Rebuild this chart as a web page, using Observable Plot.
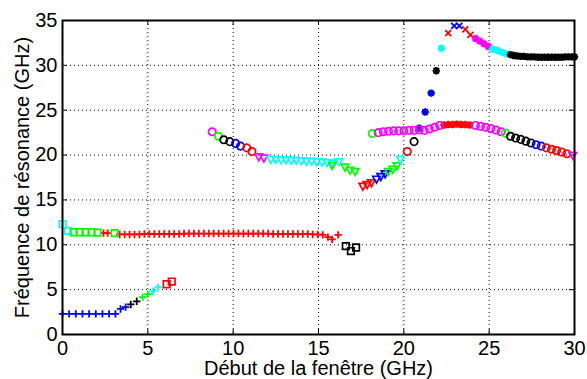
<!DOCTYPE html>
<html><head><meta charset="utf-8">
<script src="https://cdn.jsdelivr.net/npm/d3@7"></script>
<script src="https://cdn.jsdelivr.net/npm/@observablehq/plot@0.6"></script>
<style>body{margin:0;background:#fff}</style>
</head><body><div id="chart"></div>
<script>
// ---- tick labels & axis texts ----
const xTicks = [0, 5, 10, 15, 20, 25, 30];
const yTicks = [0, 5, 10, 15, 20, 25, 30, 35];
const xLabel = "Début de la fenêtre (GHz)";
const yLabel = "Fréquence de résonance (GHz)";

// ---- low branch ----
const lowBluePlus = [[0,2.3],[0.39,2.3],[0.78,2.3],[1.17,2.3],[1.56,2.3],[1.95,2.3],[2.34,2.3],[2.73,2.3],[3.1,2.3],[3.4,2.85],[3.7,3.05]];
const lowBlackPlus = [[4.0,3.35],[4.35,3.7]];
const lowGreenPlus = [[4.7,4.15],[5.0,4.5]];
const lowCyanPlus = [[5.3,4.8],[5.6,5.25]];
const lowRedSquare = [[6.1,5.6],[6.4,5.9]];

// ---- ~11 GHz branch ----
const midCyanSquare = [[0.0,12.3],[0.33,11.55]];
const midGreenSquare = [[0.65,11.4],[1.0,11.4],[1.35,11.4],[1.7,11.4],[2.05,11.35]];
const midRedPlus1 = [[2.4,11.3],[2.65,11.3]];
const midGreenSquare2 = [[3.05,11.3]];
const midRedPlus2 = [[3.35,11.15],[3.64,11.15],[3.93,11.15],[4.22,11.15],[4.51,11.15],[4.80,11.2],[5.09,11.2],[5.38,11.2],[5.67,11.2],[5.96,11.2],
  [6.25,11.2],[6.54,11.2],[6.83,11.2],[7.12,11.25],[7.41,11.25],[7.70,11.25],[7.99,11.25],[8.28,11.25],[8.57,11.25],[8.86,11.25],
  [9.15,11.25],[9.44,11.25],[9.73,11.25],[10.02,11.25],[10.31,11.25],[10.60,11.25],[10.89,11.25],[11.18,11.25],[11.47,11.25],[11.76,11.25],
  [12.05,11.25],[12.34,11.2],[12.63,11.2],[12.92,11.2],[13.21,11.2],[13.50,11.2],[13.79,11.2],[14.08,11.2],[14.37,11.2],[14.66,11.15],[14.95,11.15],
  [15.25,11.1],[15.55,10.85],[15.8,10.6],[16.15,11.1]];
const midBlackSquare = [[16.6,9.85],[16.9,9.3],[17.2,9.7]];

// ---- ~20 GHz descending branch ----
const cMagentaO = [[8.77,22.6]];
const cGreenO = [[9.14,22.1]];
const cBlackO = [[9.45,21.7],[9.8,21.5]];
const cBlueO = [[10.14,21.3],[10.43,21.0]];
const cRedO = [[10.8,20.8],[11.1,20.4]];
const cMagentaV = [[11.5,19.8],[11.8,19.65]];
const cCyanV = [[12.2,19.5],[12.5,19.5],[12.8,19.45],[13.1,19.45],[13.4,19.4],[13.7,19.4],[14.0,19.35],[14.3,19.3],[14.6,19.3],[14.9,19.25],[15.2,19.2],[15.5,19.15],[15.85,19.1],[16.2,19.25]];
const cGreenV = [[15.8,18.85],[16.55,18.65],[16.85,18.3],[17.15,18.15]];
const cRedV = [[17.6,16.5],[17.85,16.7],[18.1,16.9]];
const cBlueV = [[18.4,17.3],[18.65,17.6],[18.9,17.9]];
const cGreenV2 = [[19.1,18.15],[19.35,18.4],[19.6,18.8]];
const cCyanV2 = [[19.8,19.5]];
const cRedO2 = [[20.2,20.4]];
const cBlackO2 = [[20.6,21.5]];

// ---- rising peak branch ----
const pBlueStar = [[20.9,23.0],[21.25,24.8],[21.6,26.9]];
const pBlackStar = [[21.9,29.4]];
const pCyanStar = [[22.2,31.9]];
const pRedX = [[22.6,33.6]];
const pBlueX = [[22.95,34.4],[23.25,34.4]];
const pRedX2 = [[23.6,34.0],[23.9,33.4]];
const pMagentaStar = [[24.2,33.0],[24.45,32.7],[24.7,32.4],[24.95,32.1]];
const pCyanStar2 = [[25.2,31.8],[25.5,31.65],[25.75,31.45],[26.0,31.3]];
const pBlackStar2 = [[26.25,31.2],[26.45,31.1],[26.65,31.05],[26.85,31.0],[27.05,31.0],[27.25,30.95],[27.45,30.95],[27.65,30.95],[27.85,30.9],[28.05,30.9],
  [28.25,30.9],[28.45,30.9],[28.65,30.9],[28.85,30.9],[29.05,30.9],[29.25,30.9],[29.45,30.95],[29.65,30.95],[29.85,30.95],[30.0,30.95]];

// ---- ~23 GHz upper branch ----
const eGreenO = [[18.15,22.4]];
const eMagentaO = [[18.5,22.5],[18.8,22.6],[19.1,22.65],[19.4,22.7],[19.7,22.7],[20.0,22.7],[20.3,22.75],[20.6,22.75],[20.9,22.8],[21.2,22.75],[21.5,22.9],[21.8,23.1],[22.1,23.3]];
const eRedStar = [[22.35,23.35],[22.6,23.4],[22.85,23.4],[23.1,23.45],[23.35,23.4],[23.6,23.4],[23.85,23.35]];
const eMagentaO2 = [[24.2,23.3],[24.5,23.2],[24.8,23.1],[25.1,22.95],[25.4,22.8],[25.7,22.6]];
const eGreenO2 = [[25.95,22.45]];
const eBlackO = [[26.25,22.1],[26.55,21.9],[26.85,21.75],[27.15,21.55],[27.45,21.35]];
const eBlueO = [[27.75,21.15],[28.05,21.0]];
const eRedO = [[28.35,20.8],[28.65,20.65],[28.95,20.5],[29.25,20.35],[29.55,20.15]];
const eMagentaV = [[29.9,19.95]];

// MATLAB colour letters
const colors = {b:"#0000ff", g:"#00ff00", r:"#ff0000", c:"#00ffff", m:"#ff00ff", k:"#000000"};

const series = [
  [lowBluePlus,"b","plus"],[lowBlackPlus,"k","plus"],[lowGreenPlus,"g","plus"],[lowCyanPlus,"c","plus"],[lowRedSquare,"r","square"],
  [midCyanSquare,"c","square"],[midGreenSquare,"g","square"],[midRedPlus1,"r","plus"],[midGreenSquare2,"g","square"],[midRedPlus2,"r","plus"],[midBlackSquare,"k","square"],
  [cMagentaO,"m","circle"],[cGreenO,"g","circle"],[cBlackO,"k","circle"],[cBlueO,"b","circle"],[cRedO,"r","circle"],[cMagentaV,"m","tri"],[cCyanV,"c","tri"],
  [cGreenV,"g","tri"],[cRedV,"r","tri"],[cBlueV,"b","tri"],[cGreenV2,"g","tri"],[cCyanV2,"c","tri"],[cRedO2,"r","circle"],[cBlackO2,"k","circle"],
  [eGreenO,"g","circle"],[eMagentaO,"m","circle"],[eRedStar,"r","star"],[eMagentaO2,"m","circle"],[eGreenO2,"g","circle"],[eBlackO,"k","circle"],[eBlueO,"b","circle"],[eRedO,"r","circle"],[eMagentaV,"m","tri"],
  [pBlueStar,"b","star"],[pBlackStar,"k","star"],[pCyanStar,"c","star"],[pRedX,"r","times"],[pBlueX,"b","times"],[pRedX2,"r","times"],[pMagentaStar,"m","star"],[pCyanStar2,"c","star"],[pBlackStar2,"k","star"]
];

const rows = series.flatMap(([pts, c, m]) => pts.map(([x, y]) => ({x, y, c: colors[c], m})));

// MATLAB-like marker shapes (half size h derived from Plot's r)
const H = s => Math.sqrt(s / Math.PI);
const symbols = {
  plus: {draw(c, s){const h=H(s); c.moveTo(-h,0); c.lineTo(h,0); c.moveTo(0,-h); c.lineTo(0,h);}},
  times: {draw(c, s){const h=H(s); c.moveTo(-h,-h); c.lineTo(h,h); c.moveTo(-h,h); c.lineTo(h,-h);}},
  star: {draw(c, s){const h=H(s), d=h*0.72; c.moveTo(-h,0); c.lineTo(h,0); c.moveTo(0,-h); c.lineTo(0,h); c.moveTo(-d,-d); c.lineTo(d,d); c.moveTo(-d,d); c.lineTo(d,-d);}},
  circle: {draw(c, s){const h=H(s); c.moveTo(h,0); c.arc(0,0,h,0,2*Math.PI);}},
  square: {draw(c, s){const h=H(s); c.rect(-h,-h,2*h,2*h);}},
  tri: {draw(c, s){const h=H(s); c.moveTo(-h,-0.8*h); c.lineTo(h,-0.8*h); c.lineTo(0,h); c.closePath();}}
};
const radius = {plus:3.7, times:3.0, star:3.7, circle:3.7, square:3.3, tri:3.8};
const strokeW = {plus:1.8, times:1.8, star:2.2, circle:1.7, square:1.7, tri:1.7};

const width = 587, height = 379, mL = 62, mR = 13, mT = 20, mB = 45;
const innerW = width - mL - mR, innerH = height - mT - mB;
const tick = 5;

const dotMarks = Object.keys(symbols).map(k =>
  Plot.dot(rows.filter(d => d.m === k), {x: "x", y: "y", stroke: "c", fill: "none", symbol: symbols[k], r: radius[k], strokeWidth: strokeW[k]})
);

const chart = Plot.plot({
  width, height, marginLeft: mL, marginRight: mR, marginTop: mT, marginBottom: mB,
  style: {fontFamily: "'Liberation Sans', Arial, Helvetica, sans-serif", fontSize: "20px", background: "#fff", color: "#000"},
  x: {domain: [0, 30]},
  y: {domain: [0, 35]},
  color: {type: "identity"},
  marks: [
    Plot.ruleX(xTicks.filter(d => d > 0 && d < 30), {stroke: "#000", strokeDasharray: "1,3", strokeWidth: 1}),
    Plot.ruleY(yTicks.filter(d => d > 0 && d < 35), {stroke: "#000", strokeDasharray: "1,3", strokeWidth: 1}),
    Plot.ruleX(xTicks, {stroke: "#000", insetTop: innerH - tick}),
    Plot.ruleX(xTicks, {stroke: "#000", insetBottom: innerH - tick}),
    Plot.ruleY(yTicks, {stroke: "#000", insetRight: innerW - tick}),
    Plot.ruleY(yTicks, {stroke: "#000", insetLeft: innerW - tick}),
    ...dotMarks,
    Plot.frame({stroke: "#000", strokeWidth: 2}),
    Plot.axisX(xTicks, {tickSize: 0, tickPadding: 6, fontSize: 20, label: null}),
    Plot.axisY(yTicks, {tickSize: 0, tickPadding: 5, fontSize: 20, label: null}),
    Plot.text([xLabel], {text: d => d, frameAnchor: "bottom", textAnchor: "middle", dy: 40, fontSize: 20}),
    Plot.text([yLabel], {text: d => d, frameAnchor: "left", textAnchor: "middle", rotate: -90, dx: -40, fontSize: 20})
  ]
});
document.getElementById("chart").appendChild(chart);
</script>
</body></html>
